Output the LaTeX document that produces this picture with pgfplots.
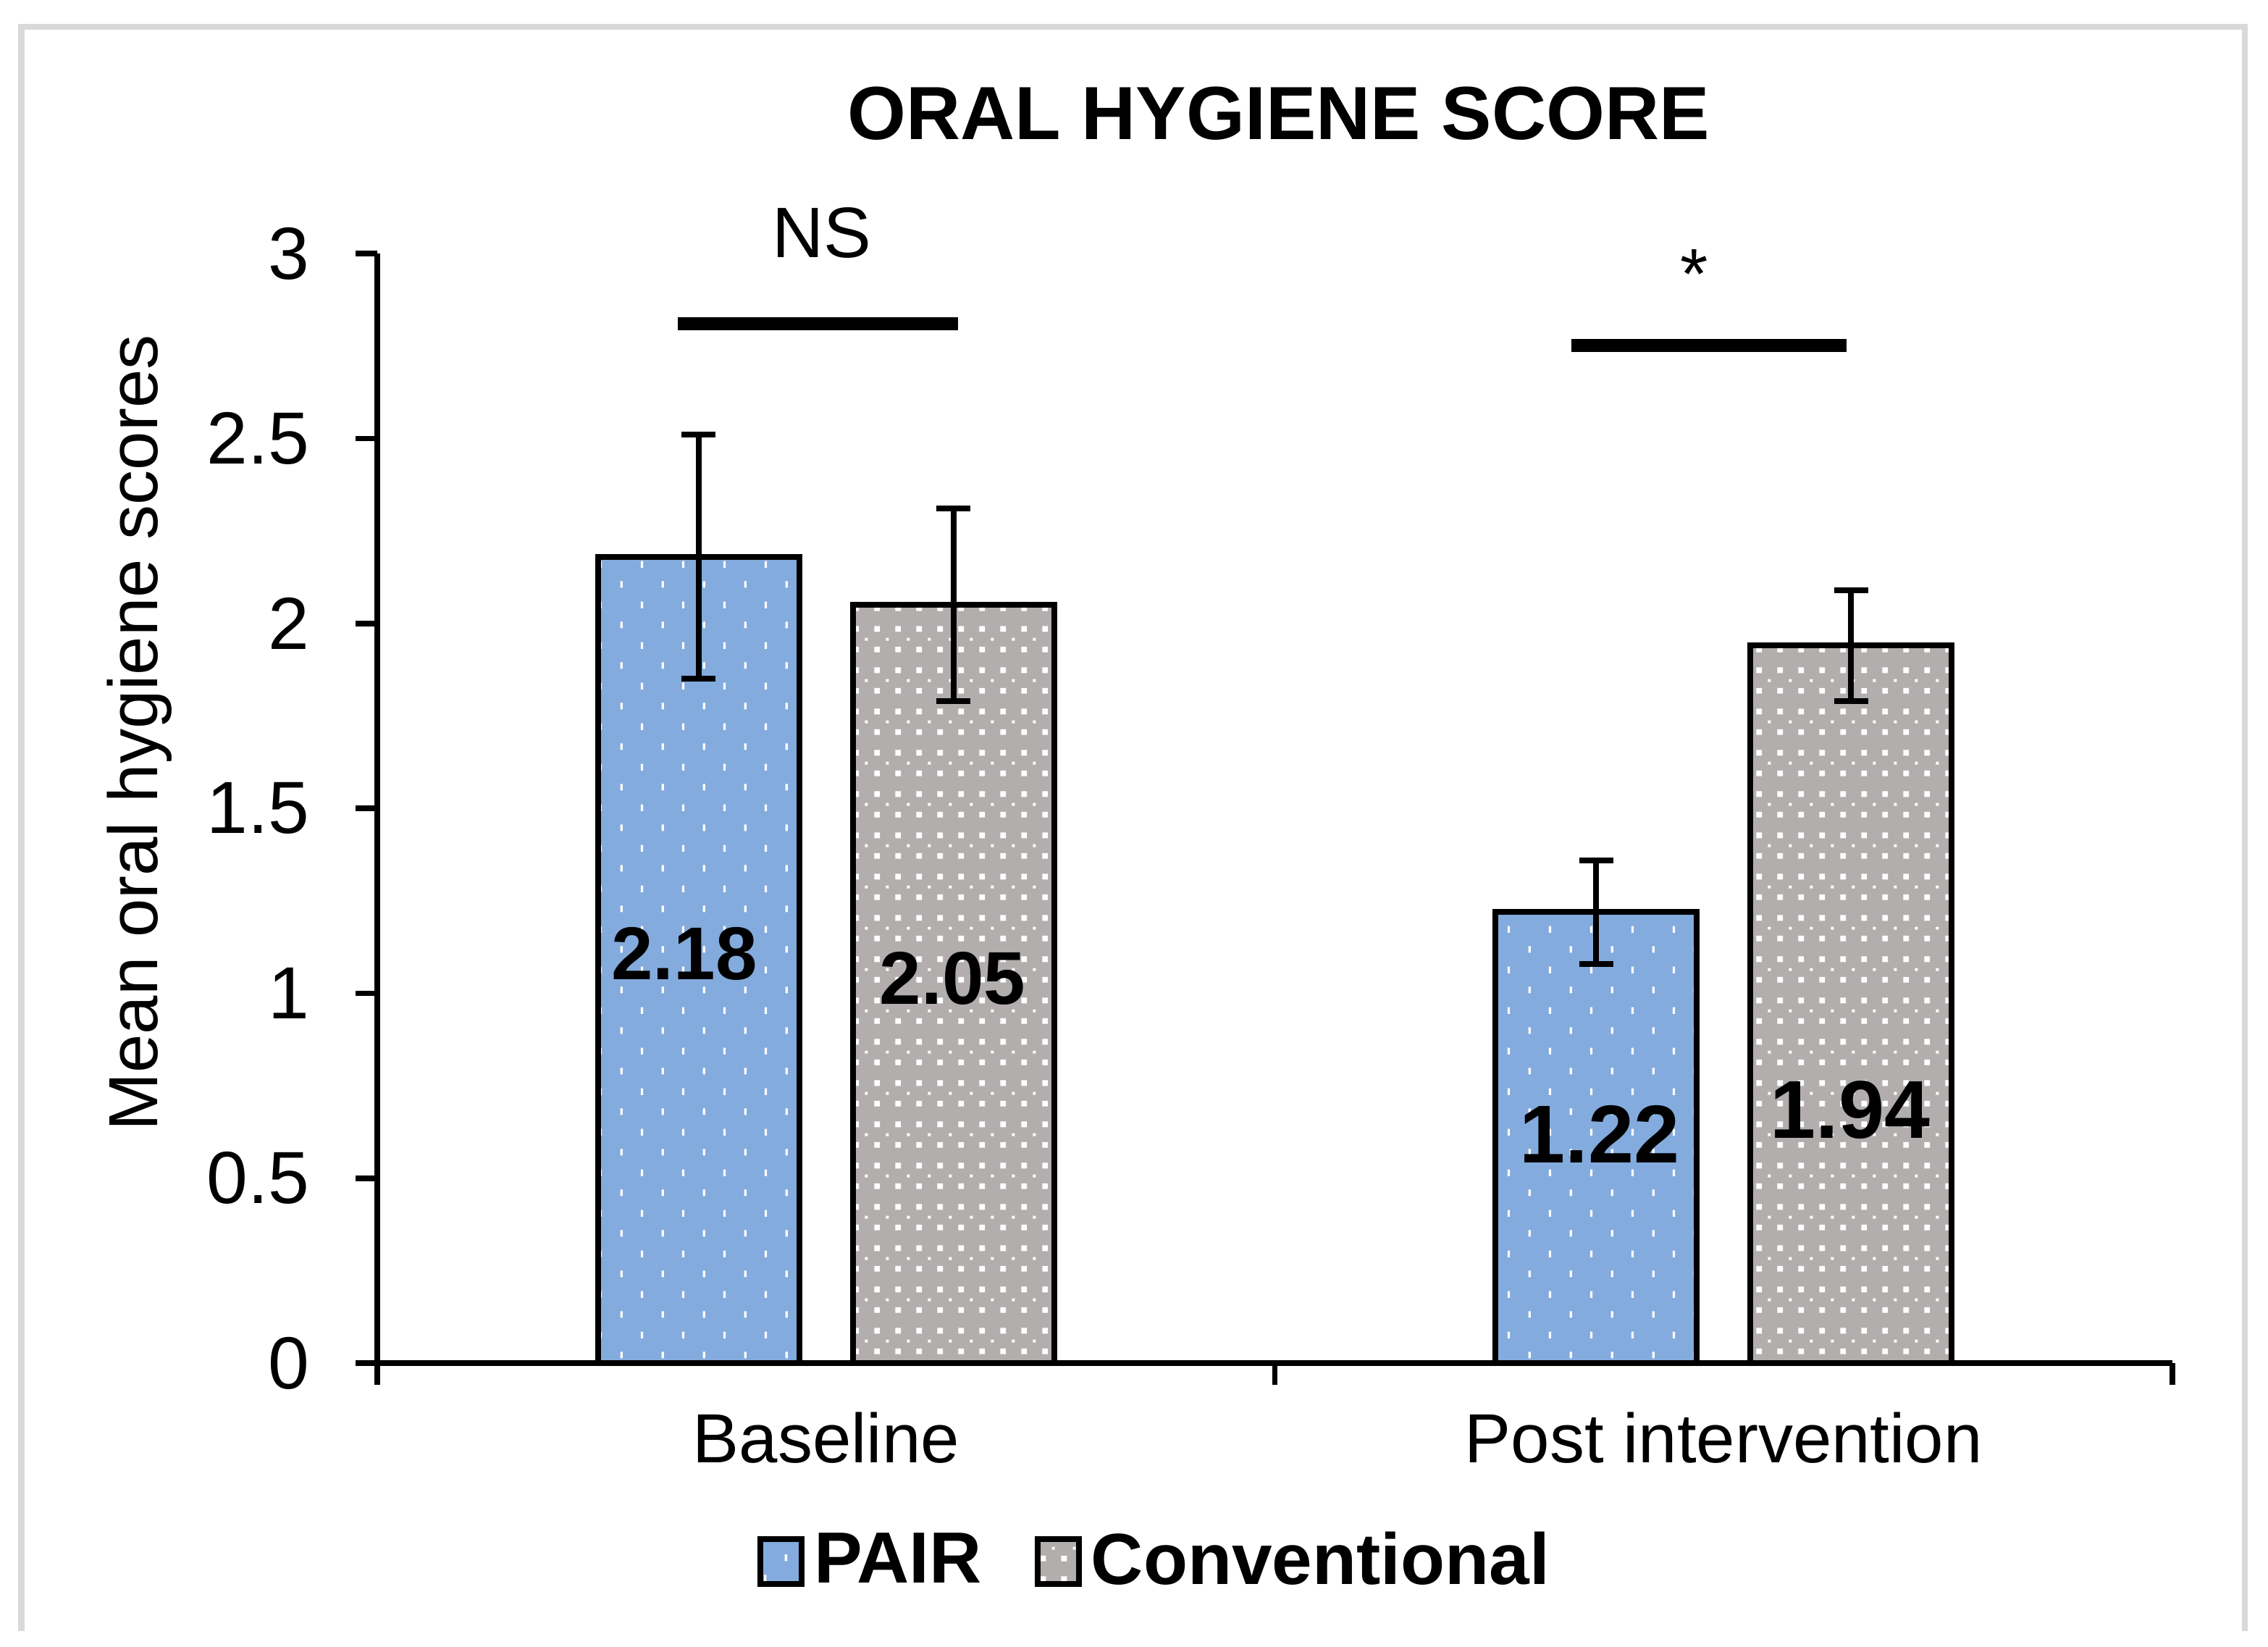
\documentclass[border=0pt]{standalone}
\usepackage{fontspec}
\setmainfont{Liberation Sans}
\usepackage{pgfplots}
\pgfplotsset{compat=1.18}
\usetikzlibrary{patterns}
\definecolor{pairblue}{RGB}{132,171,221}
\definecolor{convgray}{RGB}{178,174,173}
\definecolor{framegray}{RGB}{217,217,217}
\pgfdeclarepatternformonly{pairdots}{\pgfqpoint{0pt}{0pt}}{\pgfqpoint{8.5pt}{8.4pt}}{\pgfqpoint{8.5pt}{8.4pt}}{%
  \pgfpathrectangle{\pgfqpoint{1pt}{1pt}}{\pgfqpoint{0.5pt}{1.4pt}}%
  \pgfpathrectangle{\pgfqpoint{5.25pt}{5.2pt}}{\pgfqpoint{0.5pt}{1.4pt}}%
  \pgfusepath{fill}}
\pgfdeclarepatternformonly{convdots}{\pgfqpoint{0pt}{0pt}}{\pgfqpoint{4.3pt}{8.6pt}}{\pgfqpoint{4.3pt}{8.6pt}}{%
  \pgfpathrectangle{\pgfqpoint{0.5pt}{0.5pt}}{\pgfqpoint{1.2pt}{1.2pt}}%
  \pgfpathrectangle{\pgfqpoint{0.5pt}{4.8pt}}{\pgfqpoint{1.2pt}{1.2pt}}%
  \pgfpathrectangle{\pgfqpoint{2.95pt}{2.95pt}}{\pgfqpoint{0.6pt}{0.6pt}}%
  \pgfusepath{fill}}
\pgfplotsset{
  boxlegend/.style={legend image code/.code={\draw[##1, line width=1.2pt] (0pt,-4.6pt) rectangle (8.5pt,4.6pt);}},
  errstyle/.style={error bars/.cd, y dir=both, y explicit,
    error bar style={line width=1.2pt, black},
    error mark options={rotate=90, mark size=3.5pt, line width=1.2pt, black}},
}
\begin{document}
\begin{tikzpicture}
\useasboundingbox (0,0) rectangle (469.8pt,340.95pt);
\draw[framegray, line width=1.3pt] (4.43pt,3.15pt) -- (4.43pt,335.4pt) -- (465pt,335.4pt) -- (465pt,3.15pt);
\begin{axis}[
  at={(78.15pt,58.65pt)}, anchor=south west,
  scale only axis, width=371.85pt, height=229.8pt,
  xmin=-0.5, xmax=1.5, ymin=0, ymax=3,
  axis x line*=bottom, axis y line*=left,
  axis line style={black, line width=1.15pt},
  tick style={black, line width=1.15pt},
  major tick length=4.5pt, tick align=outside,
  xtick={-0.5,0.5,1.5}, x tick label as interval,
  xticklabels={Baseline, Post intervention},
  ytick={0,0.5,1,1.5,2,2.5,3},
  yticklabels={0,0.5,1,1.5,2,2.5,3},
  xticklabel style={font=\fontsize{14.4}{17}\selectfont, anchor=base, yshift=-16.1pt},
  yticklabel style={font=\fontsize{15.3}{18}\selectfont, anchor=east, inner sep=0pt, xshift=-9.3pt},
  title={ORAL HYGIENE SCORE},
  title style={at={(axis description cs:0.502,1.126)}, anchor=center, yshift=-6pt, font=\bfseries\fontsize{15.6}{18}\selectfont},
  ylabel={Mean oral hygiene scores},
  ylabel style={at={(axis description cs:-0.1226,0.568)}, anchor=base, font=\fontsize{14.4}{17}\selectfont},
  clip=false,
  legend columns=2,
  legend style={at={(axis description cs:0.2118,-0.1789)}, anchor=west, draw=none, inner sep=0pt, outer sep=0pt,
    font=\bfseries\fontsize{15}{18}\selectfont,
    /tikz/every even column/.append style={column sep=9pt}},
]
\addplot[ybar, bar width=0.224, bar shift=0, draw=black, line width=1.2pt, fill=pairblue,
  postaction={pattern=pairdots, pattern color=white}, boxlegend, errstyle]
  coordinates {(-0.142,2.18) +- (0,0.33) (0.858,1.22) +- (0,0.14)};
\addlegendentry{PAIR}
\addplot[ybar, bar width=0.224, bar shift=0, draw=black, line width=1.2pt, fill=convgray,
  postaction={pattern=convdots, pattern color=white}, boxlegend, errstyle]
  coordinates {(0.142,2.05) +- (0,0.26) (1.142,1.94) +- (0,0.15)};
\addlegendentry{Conventional}
\addplot[black, line width=2.7pt, line cap=butt, forget plot] coordinates {(-0.165,2.81) (0.147,2.81)};
\addplot[black, line width=2.7pt, line cap=butt, forget plot] coordinates {(0.830,2.751) (1.137,2.751)};
\node[font=\fontsize{14.8}{17}\selectfont] at (axis cs:-0.005,3.055) {NS};
\node[font=\fontsize{14.8}{17}\selectfont, anchor=base] at (axis cs:0.967,2.878) {*};
\node[font=\bfseries\fontsize{15.5}{18}\selectfont] at (axis cs:-0.158,1.106) {2.18};
\node[font=\bfseries\fontsize{15.5}{18}\selectfont] at (axis cs:0.141,1.040) {2.05};
\node[font=\bfseries\fontsize{17}{20}\selectfont] at (axis cs:0.862,0.619) {1.22};
\node[font=\bfseries\fontsize{17}{20}\selectfont] at (axis cs:1.141,0.685) {1.94};
\end{axis}
\end{tikzpicture}
\end{document}
